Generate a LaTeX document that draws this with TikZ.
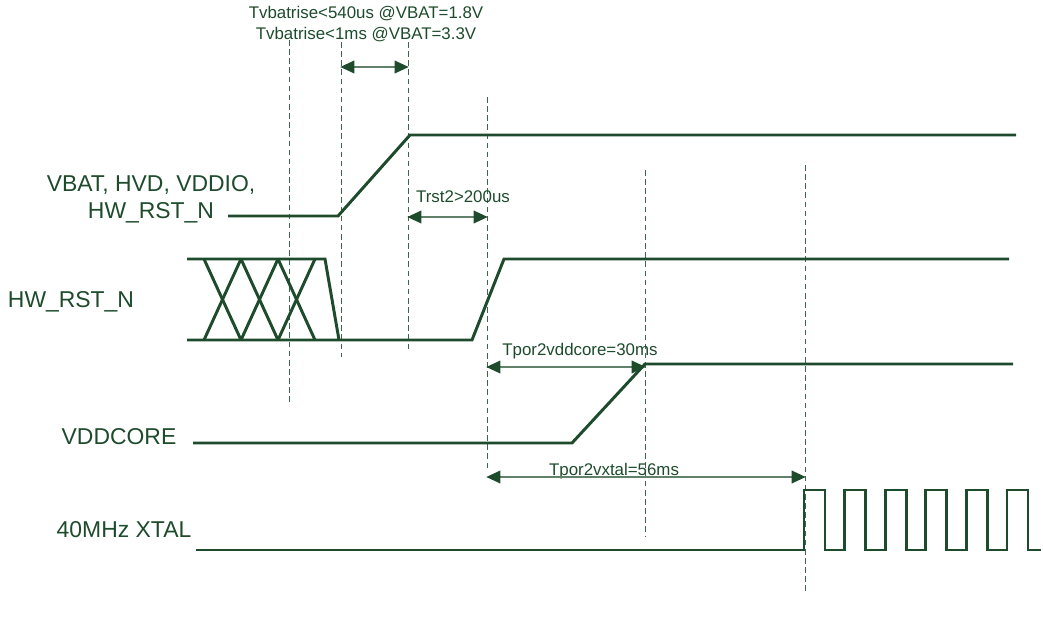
\documentclass[tikz,border=0pt]{standalone}
\usepackage{fontspec}
\setmainfont{Liberation Sans}
\usetikzlibrary{arrows.meta}
\definecolor{wave}{HTML}{1D4B2C}

\begin{document}
\begin{tikzpicture}[x=.025cm,y=-.025cm,font=\fontsize{12}{14.6}\selectfont,
 sig/.style={draw=wave,line width=2.1pt},
 guide/.style={draw=wave!85,line width=.7pt,dash pattern=on 4pt off 2.5pt},
 span/.style={{Triangle[length=10pt,width=9pt,color=wave]}-{Triangle[length=10pt,width=9pt,color=wave]},draw=wave!70,line width=1.1pt,shorten <=-.5pt,shorten >=-.5pt},
 note/.style={text=wave,anchor=base,inner sep=0pt},
 signame/.style={note,font=\fontsize{16.3}{19}\selectfont,align=center}]
\path[use as bounding box] (0,0) rectangle (1043,617);

% Dashed timing marks
\foreach \n/\x/\a/\b in {pre/289/40/405,rise/341/42/357,top/408/42/350,por/487/97/470,core/645/170/537,clk/805/165/592}
 \draw[guide] (\x,\a) coordinate (\n) -- (\x,\b);

% Waveforms
\draw[sig] (228,216)--(338,216)--(410,135)--(1016,135);
\draw[sig] (187,259)--(325,259)--(339,340);
\draw[sig] (187,340)--(472,340)--(504,259)--(1009,259);
\foreach \a in {204,241,278} {
 \draw[sig] (\a,259)--(\a+37,340);
 \draw[sig] (\a+37,259)--(\a,340);
}
\draw[sig] (193,443)--(572,443)--(645,364)--(1013,364);
\draw[sig,line join=miter] (196,550) foreach \k in {0,...,5} {
 --(804+40.6*\k,550)--(804+40.6*\k,490)--(825+40.6*\k,490)--(825+40.6*\k,550)} --(1041,550);

% Signal names
\node[signame,anchor=center] (vbat) at (151,199) {VBAT, HVD, VDDIO,\\HW\_RST\_N};
\node[signame] (rstn) at (71,307) {HW\_RST\_N};
\node[signame] (vcore) at (119,444) {VDDCORE};
\node[signame] (xtal) at (124,537) {40MHz XTAL};

% Timing requirements
\node[note,anchor=center,align=center] (trise) at (366,24) {Tvbatrise<540us @VBAT=1.8V\\Tvbatrise<1ms @VBAT=3.3V};
\coordinate (a1) at (rise |- 0,67);
\coordinate (b1) at (top |- 0,67);
\draw[span] (a1)--(b1);
\node[note] (trst) at (463,202) {Trst2>200us};
\coordinate (a2) at (top |- 0,217);
\coordinate (b2) at (por |- 0,217);
\draw[span] (a2)--(b2);
\node[note] (tcore) at (580,355) {Tpor2vddcore=30ms};
\coordinate (a3) at (por |- 0,367);
\coordinate (b3) at (core |- 0,367);
\draw[span] (a3)--(b3);
\node[note] (txtal) at (614,475) {Tpor2vxtal=56ms};
\coordinate (a4) at (por |- 0,477);
\coordinate (b4) at (clk |- 0,477);
\draw[span] (a4)--(b4);
\end{tikzpicture}
\end{document}
